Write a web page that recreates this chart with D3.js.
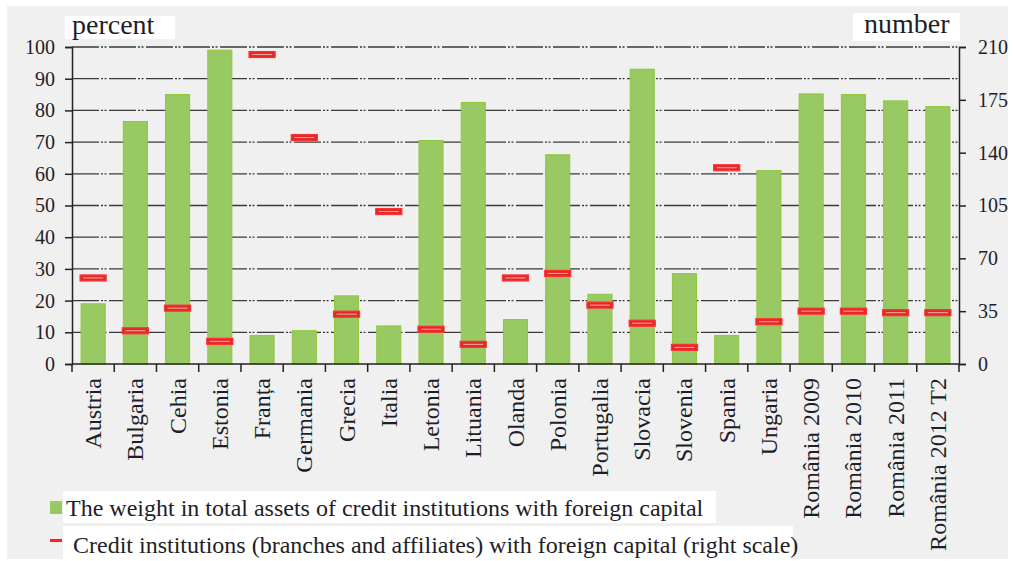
<!DOCTYPE html>
<html>
<head>
<meta charset="utf-8">
<style>
  body { margin: 0; background: #fff; }
  svg text { font-family: "Liberation Serif", "DejaVu Serif", serif; fill: #1e1e28; }
</style>
</head>
<body>
<div class="chart"></div>
<script src="https://d3js.org/d3.v7.min.js"></script>
<script>
  // data
  const categories = ['Austria', 'Bulgaria', 'Cehia', 'Estonia', 'Franța', 'Germania', 'Grecia', 'Italia',
    'Letonia', 'Lituania', 'Olanda', 'Polonia', 'Portugalia', 'Slovacia', 'Slovenia', 'Spania', 'Ungaria',
    'România 2009', 'România 2010', 'România 2011', 'România 2012 T2']
  // share of foreign-capital credit institutions in total assets (%)
  const weightPct = [19, 76.5, 85, 99, 9, 10.5, 21.5, 12, 70.5, 82.5, 14, 66, 22, 93, 28.5, 9, 61, 85.2, 85, 83, 81.2]
  // number of credit institutions with foreign capital (right scale)
  const institutions = [57, 22, 37, 15, 205, 150, 33, 101, 23, 13, 57, 60, 39, 27, 11, 130, 28, 35, 35, 34, 34]
  const leftTicks = [0, 10, 20, 30, 40, 50, 60, 70, 80, 90, 100]
  const rightTicks = [0, 35, 70, 105, 140, 175, 210]
  const legendLabels = ['The weight in total assets of credit institutions with foreign capital',
    'Credit institutions (branches and affiliates) with foreign capital (right scale)']

  const width = 1014, height = 561
  const plot = { left: 72, right: 959, top: 47, bottom: 364 }

  const svg = d3.select('.chart').append('svg')
    .attr('width', width).attr('height', height)

  // gray panel
  svg.append('rect').attr('x', 7).attr('y', 6).attr('width', 1001).attr('height', 553).attr('fill', '#f0f0f0')

  const x = d3.scaleBand().domain(categories).range([plot.left, plot.right]).paddingInner(0.43).paddingOuter(0.215)
  const yL = d3.scaleLinear().domain([0, 100]).range([plot.bottom, plot.top])
  const yR = d3.scaleLinear().domain([0, 210]).range([plot.bottom, plot.top])

  // grid lines, dash-dot-dot
  svg.append('g').selectAll('line').data(leftTicks.filter(d => d > 0)).join('line')
    .attr('x1', plot.left).attr('x2', plot.right)
    .attr('y1', d => yL(d)).attr('y2', d => yL(d))
    .attr('stroke', '#3a3a3a').attr('stroke-width', 1.3)
    .attr('stroke-dasharray', '27,2,2,1.5,2,2.5')

  // left axis
  const axL = svg.append('g').attr('transform', `translate(${plot.left},0)`)
    .call(d3.axisLeft(yL).tickValues(leftTicks).tickSize(7).tickPadding(10))
  axL.selectAll('text').style('font-size', '20px')

  // right axis
  const axR = svg.append('g').attr('transform', `translate(${plot.right},0)`)
    .call(d3.axisRight(yR).tickValues(rightTicks).tickSize(7).tickPadding(12))
  axR.selectAll('text').style('font-size', '20px')

  ;[axL, axR].forEach(a => {
    a.select('.domain').attr('stroke', '#222').attr('stroke-width', 1.5)
    a.selectAll('.tick line').attr('stroke', '#222').attr('stroke-width', 1.5)
  })

  // bars
  svg.append('g').selectAll('rect').data(weightPct).join('rect')
    .attr('x', (d, i) => x(categories[i]))
    .attr('width', x.bandwidth())
    .attr('y', d => yL(d))
    .attr('height', d => yL(0) - yL(d))
    .attr('fill', '#98c962')
    .attr('stroke', '#8fc63a').attr('stroke-width', 1)

  // x axis line + category ticks
  const xa = svg.append('g')
  xa.append('line').attr('x1', plot.left).attr('x2', plot.right).attr('y1', plot.bottom).attr('y2', plot.bottom)
    .attr('stroke', '#222').attr('stroke-width', 1.5)
  const step = x.step()
  xa.selectAll('.ct').data(d3.range(categories.length + 1)).join('line')
    .attr('x1', i => plot.left + i * step).attr('x2', i => plot.left + i * step)
    .attr('y1', plot.bottom).attr('y2', plot.bottom + 8)
    .attr('stroke', '#222').attr('stroke-width', 1.5)

  // category labels, rotated
  svg.append('g').selectAll('text').data(categories).join('text')
    .attr('transform', d => `translate(${x(d) + x.bandwidth() / 2 + 8},378) rotate(-90)`)
    .attr('text-anchor', 'end')
    .style('font-size', '24px')
    .text(d => d)

  // red markers (right scale)
  const mk = svg.append('g').selectAll('g').data(institutions).join('g')
    .attr('transform', (d, i) => `translate(${x(categories[i]) - 1},${yR(d)})`)
  mk.append('rect').attr('x', 0).attr('y', -3).attr('width', x.bandwidth() + 2).attr('height', 6)
    .attr('fill', '#e02a2a').attr('stroke', '#ff3030').attr('stroke-width', 1.2)
  mk.append('line').attr('x1', 3).attr('x2', x.bandwidth() - 1).attr('y1', 0).attr('y2', 0)
    .attr('stroke', '#f4a6a6').attr('stroke-width', 1)

  // axis titles in white boxes
  svg.append('rect').attr('x', 65).attr('y', 16).attr('width', 110).attr('height', 23).attr('fill', '#fff')
  svg.append('text').attr('x', 72).attr('y', 34).style('font-size', '28px').text('percent')
  svg.append('rect').attr('x', 853).attr('y', 13).attr('width', 107).attr('height', 28).attr('fill', '#fff')
  svg.append('text').attr('x', 864).attr('y', 33).style('font-size', '28px').text('number')

  // legend
  svg.append('rect').attr('x', 63).attr('y', 491).attr('width', 653).attr('height', 32).attr('fill', '#fff')
  svg.append('rect').attr('x', 50).attr('y', 501).attr('width', 12).attr('height', 13).attr('fill', '#98c962')
  svg.append('text').attr('x', 66).attr('y', 516).style('font-size', '24px').text(legendLabels[0])

  svg.append('rect').attr('x', 63).attr('y', 526).attr('width', 730).attr('height', 33).attr('fill', '#fff')
  svg.append('rect').attr('x', 50).attr('y', 539).attr('width', 12).attr('height', 3).attr('fill', '#ff2020')
  svg.append('text').attr('x', 73).attr('y', 553).style('font-size', '24px').text(legendLabels[1])
</script>
</body>
</html>
